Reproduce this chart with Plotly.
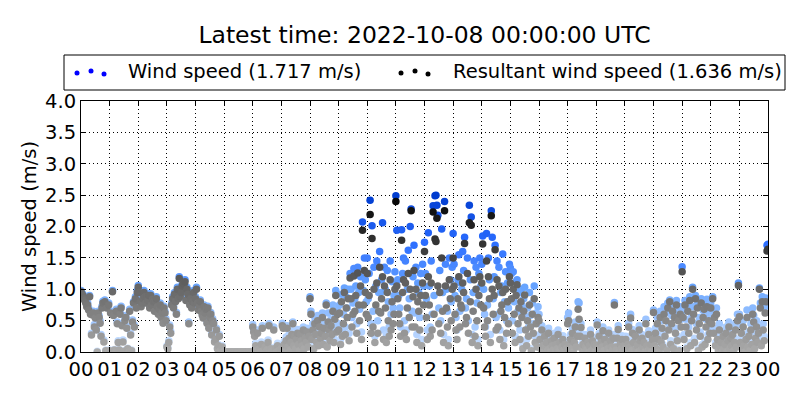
import pandas as pd
import plotly.graph_objects as go

# 2-minute samples, 2022-10-07 00:00 .. 2022-10-08 00:00 (one row per hour)
wind_speed = [
    0.98, 0.94, 0.92, 0.88, 0.85, 0.80, 0.75, 0.78, 0.70, 0.90, 0.63, 0.30, 0.62, 0.65, 0.44, 0.57, 0.38, 0.01, 0.65, 0.58, 0.50, 0.28, 0.73, 0.81, 0.19, 0.83, 0.03, 0.73, 0.01, 0.78,  # 00
    0.03, 0.65, 0.01, 0.98, 0.61, 0.04, 0.01, 0.68, 0.48, 0.18, 0.04, 0.63, 0.73, 0.45, 0.19, 0.02, 0.53, 0.58, 0.41, 0.06, 0.01, 0.68, 0.30, 0.03, 0.51, 0.80, 0.43, 0.88, 0.73, 0.98,  # 01
    1.06, 0.98, 0.83, 0.75, 0.81, 0.88, 0.98, 0.91, 0.81, 0.91, 0.85, 0.93, 0.73, 0.93, 0.78, 0.87, 0.83, 0.68, 0.83, 0.88, 0.75, 0.63, 0.71, 0.78, 0.58, 0.65, 0.49, 0.73, 0.65, 0.53,  # 02
    0.10, 0.07, 0.18, 0.43, 0.33, 0.78, 0.88, 0.73, 0.95, 0.83, 0.63, 1.03, 0.88, 1.20, 0.91, 0.98, 1.08, 1.13, 1.11, 1.15, 0.85, 1.03, 0.95, 0.48, 0.78, 0.88, 0.73, 0.83, 0.98, 0.81,  # 03
    0.88, 1.03, 0.81, 0.70, 0.75, 0.83, 0.68, 0.62, 0.57, 0.75, 0.65, 0.71, 0.49, 0.73, 0.41, 0.58, 0.63, 0.30, 0.53, 0.48, 0.19, 0.23, 0.38, 0.06, 0.12, 0.28, 0.03, 0.00, 0.10, 0.00,  # 04
    0.00, 0.00, 0.00, 0.00, 0.00, 0.00, 0.00, 0.00, 0.00, 0.00, 0.00, 0.00, 0.00, 0.00, 0.00, 0.00, 0.00, 0.00, 0.00, 0.00, 0.00, 0.00, 0.00, 0.00, 0.00, 0.00, 0.00, 0.00, 0.00, 0.01,  # 05
    0.44, 0.36, 0.30, 0.14, 0.04, 0.35, 0.01, 0.08, 0.01, 0.16, 0.42, 0.04, 0.01, 0.11, 0.01, 0.05, 0.19, 0.45, 0.02, 0.07, 0.01, 0.04, 0.40, 0.02, 0.08, 0.01, 0.14, 0.04, 0.01, 0.06,  # 06
    0.08, 0.46, 0.42, 0.17, 0.02, 0.24, 0.42, 0.12, 0.28, 0.04, 0.20, 0.34, 0.48, 0.15, 0.30, 0.08, 0.26, 0.36, 0.16, 0.04, 0.33, 0.23, 0.14, 0.40, 0.08, 0.28, 0.20, 0.38, 0.12, 0.30,  # 07
    0.88, 0.65, 0.28, 0.45, 0.10, 0.55, 0.35, 0.22, 0.58, 0.15, 0.55, 0.30, 0.40, 0.62, 0.18, 0.48, 0.32, 0.78, 0.12, 0.62, 0.45, 0.25, 0.52, 0.36, 0.75, 0.22, 0.62, 0.98, 0.42, 0.72,  # 08
    0.45, 0.75, 0.20, 0.92, 0.35, 0.60, 1.02, 0.40, 0.88, 0.70, 1.00, 0.30, 1.25, 1.00, 0.55, 0.78, 1.33, 0.85, 1.05, 0.45, 1.35, 0.95, 0.68, 1.20, 0.32, 2.07, 0.98, 1.50, 1.15, 0.80,  # 09
    1.50, 0.85, 1.25, 2.42, 0.45, 2.01, 0.65, 1.35, 0.25, 1.05, 1.45, 0.50, 0.95, 1.60, 0.95, 1.15, 2.06, 0.35, 1.35, 1.00, 0.28, 1.30, 0.80, 0.40, 1.45, 0.60, 1.12, 0.70, 0.90, 1.28,  # 10
    2.49, 1.94, 1.15, 0.90, 0.70, 0.40, 1.95, 1.25, 1.50, 0.50, 1.45, 0.35, 1.00, 1.62, 0.85, 2.00, 2.28, 0.65, 1.20, 1.70, 0.62, 1.35, 0.28, 1.10, 0.95, 0.55, 1.25, 0.20, 1.40, 1.05,  # 11
    1.75, 1.25, 0.85, 0.35, 1.90, 1.05, 0.40, 1.45, 0.60, 2.33, 0.90, 2.49, 2.50, 2.34, 2.18, 0.70, 1.30, 0.50, 1.96, 0.95, 0.28, 2.40, 1.40, 1.00, 0.65, 0.20, 1.50, 1.15, 0.80, 1.35,  # 12
    1.89, 1.40, 0.90, 0.55, 0.35, 1.15, 1.55, 0.65, 1.10, 1.00, 1.60, 1.30, 1.83, 0.70, 0.85, 1.50, 0.50, 2.34, 1.15, 2.15, 0.28, 0.95, 1.45, 0.40, 1.35, 0.78, 0.20, 1.25, 1.50, 1.05,  # 13
    1.40, 1.85, 1.00, 0.60, 0.40, 1.89, 0.75, 1.50, 1.15, 0.28, 2.25, 1.83, 0.85, 1.20, 1.70, 0.55, 1.45, 0.60, 1.35, 0.35, 0.95, 1.05, 1.56, 0.20, 0.80, 1.28, 0.50, 1.10, 0.70, 1.40,  # 14
    1.34, 1.25, 0.50, 1.28, 0.80, 0.25, 1.12, 1.15, 0.65, 0.95, 0.35, 1.00, 0.75, 0.12, 0.85, 1.03, 0.55, 0.20, 0.70, 0.40, 0.95, 0.58, 0.05, 0.78, 0.45, 1.05, 0.25, 0.62, 0.15, 0.72,  # 15
    0.60, 0.28, 0.08, 0.42, 0.15, 0.02, 0.32, 0.12, 0.20, 0.04, 0.38, 0.08, 0.02, 0.25, 0.15, 0.05, 0.30, 0.02, 0.18, 0.08, 0.35, 0.04, 0.20, 0.02, 0.12, 0.26, 0.05, 0.17, 0.02, 0.09,  # 16
    0.55, 0.62, 0.15, 0.28, 0.08, 0.38, 0.02, 0.22, 0.48, 0.12, 0.32, 0.80, 0.78, 0.32, 0.45, 0.08, 0.18, 0.02, 0.28, 0.12, 0.05, 0.20, 0.02, 0.15, 0.35, 0.04, 0.24, 0.08, 0.18, 0.02,  # 17
    0.15, 0.48, 0.08, 0.30, 0.02, 0.20, 0.12, 0.40, 0.04, 0.25, 0.02, 0.18, 0.08, 0.35, 0.02, 0.22, 0.12, 0.05, 0.28, 0.79, 0.12, 0.05, 0.28, 0.42, 0.02, 0.17, 0.08, 0.26, 0.04, 0.14,  # 18
    0.08, 0.25, 0.02, 0.18, 0.46, 0.12, 0.60, 0.04, 0.36, 0.20, 0.02, 0.30, 0.08, 0.15, 0.02, 0.42, 0.24, 0.05, 0.28, 0.12, 0.20, 0.02, 0.52, 0.15, 0.04, 0.34, 0.08, 0.17, 0.02, 0.26,  # 19
    0.67, 0.15, 0.38, 0.08, 0.55, 0.28, 0.02, 0.65, 0.20, 0.50, 0.12, 0.72, 0.32, 0.62, 0.04, 0.78, 0.45, 0.83, 0.18, 0.58, 0.75, 0.08, 0.68, 0.38, 0.82, 0.25, 0.62, 0.04, 0.72, 0.52,  # 20
    1.36, 0.65, 0.28, 0.82, 0.52, 0.08, 0.75, 0.40, 0.88, 0.15, 0.60, 1.03, 0.72, 0.22, 0.90, 0.45, 0.80, 0.05, 0.55, 0.32, 0.85, 0.12, 0.66, 0.80, 0.18, 0.52, 0.84, 0.28, 0.62, 0.40,  # 21
    0.78, 0.55, 0.88, 0.38, 0.65, 0.15, 0.70, 0.28, 0.04, 0.45, 0.12, 0.20, 0.02, 0.32, 0.08, 0.18, 0.40, 0.02, 0.25, 0.48, 0.08, 0.30, 0.15, 0.36, 0.04, 0.22, 0.45, 0.12, 0.60, 1.10,  # 22
    0.60, 0.22, 0.43, 0.08, 0.50, 0.15, 0.02, 0.28, 0.67, 0.12, 0.32, 0.04, 0.45, 0.18, 0.70, 0.58, 0.08, 0.30, 0.50, 0.22, 0.40, 1.02, 0.78, 0.15, 0.88, 0.45, 0.25, 0.72, 0.86, 1.70,  # 23
    1.717,
]

resultant_speed = [
    0.96, 0.92, 0.90, 0.85, 0.82, 0.78, 0.72, 0.75, 0.67, 0.88, 0.60, 0.27, 0.59, 0.62, 0.40, 0.54, 0.35, 0.00, 0.62, 0.55, 0.46, 0.25, 0.70, 0.78, 0.16, 0.80, 0.02, 0.70, 0.00, 0.75,  # 00
    0.02, 0.62, 0.00, 0.96, 0.58, 0.03, 0.00, 0.65, 0.45, 0.15, 0.03, 0.60, 0.70, 0.42, 0.16, 0.01, 0.50, 0.55, 0.38, 0.05, 0.00, 0.65, 0.27, 0.02, 0.48, 0.78, 0.40, 0.85, 0.70, 0.95,  # 01
    1.03, 0.95, 0.80, 0.72, 0.78, 0.85, 0.95, 0.88, 0.78, 0.88, 0.82, 0.90, 0.70, 0.90, 0.75, 0.84, 0.80, 0.65, 0.80, 0.85, 0.72, 0.60, 0.68, 0.75, 0.55, 0.62, 0.46, 0.70, 0.62, 0.50,  # 02
    0.08, 0.05, 0.15, 0.40, 0.30, 0.75, 0.85, 0.70, 0.92, 0.80, 0.60, 1.00, 0.85, 1.17, 0.88, 0.95, 1.05, 1.10, 1.08, 1.12, 0.82, 1.00, 0.92, 0.45, 0.75, 0.85, 0.70, 0.80, 0.95, 0.78,  # 03
    0.85, 1.00, 0.78, 0.67, 0.72, 0.80, 0.65, 0.59, 0.54, 0.72, 0.62, 0.68, 0.46, 0.70, 0.38, 0.55, 0.60, 0.27, 0.50, 0.45, 0.16, 0.20, 0.35, 0.05, 0.10, 0.25, 0.02, 0.00, 0.08, 0.00,  # 04
    0.00, 0.00, 0.00, 0.00, 0.00, 0.00, 0.00, 0.00, 0.00, 0.00, 0.00, 0.00, 0.00, 0.00, 0.00, 0.00, 0.00, 0.00, 0.00, 0.00, 0.00, 0.00, 0.00, 0.00, 0.00, 0.00, 0.00, 0.00, 0.00, 0.00,  # 05
    0.40, 0.32, 0.25, 0.10, 0.02, 0.30, 0.00, 0.05, 0.00, 0.12, 0.38, 0.02, 0.00, 0.08, 0.00, 0.03, 0.15, 0.42, 0.00, 0.05, 0.00, 0.02, 0.35, 0.00, 0.06, 0.00, 0.10, 0.02, 0.00, 0.04,  # 06
    0.05, 0.42, 0.38, 0.12, 0.00, 0.18, 0.38, 0.08, 0.22, 0.02, 0.15, 0.28, 0.45, 0.10, 0.25, 0.05, 0.20, 0.30, 0.12, 0.02, 0.28, 0.18, 0.10, 0.35, 0.05, 0.22, 0.15, 0.32, 0.08, 0.25,  # 07
    0.85, 0.60, 0.20, 0.35, 0.05, 0.45, 0.28, 0.15, 0.50, 0.10, 0.40, 0.22, 0.30, 0.55, 0.12, 0.38, 0.25, 0.75, 0.08, 0.48, 0.35, 0.18, 0.42, 0.28, 0.65, 0.15, 0.52, 0.90, 0.32, 0.60,  # 08
    0.35, 0.62, 0.12, 0.80, 0.25, 0.45, 0.95, 0.28, 0.70, 0.55, 0.85, 0.18, 1.18, 0.85, 0.40, 0.60, 1.21, 0.65, 0.90, 0.30, 1.26, 0.75, 0.50, 1.05, 0.20, 1.94, 0.75, 1.30, 0.95, 0.60,  # 09
    1.25, 0.55, 0.90, 2.19, 0.30, 1.81, 0.40, 1.00, 0.15, 0.75, 1.10, 0.30, 0.65, 1.35, 0.62, 0.85, 1.20, 0.20, 1.05, 0.70, 0.15, 0.95, 0.50, 0.25, 1.15, 0.35, 0.80, 0.45, 0.60, 1.00,  # 10
    2.40, 1.05, 0.85, 0.60, 0.45, 0.25, 1.78, 0.95, 1.15, 0.30, 1.10, 0.20, 0.70, 1.25, 0.55, 1.00, 2.25, 0.40, 0.88, 1.30, 0.40, 1.00, 0.15, 0.80, 0.65, 0.35, 0.90, 0.10, 1.10, 0.75,  # 11
    1.60, 0.90, 0.55, 0.20, 1.20, 0.75, 0.25, 1.10, 0.35, 2.23, 0.60, 1.80, 1.76, 2.13, 1.05, 0.45, 0.95, 0.30, 1.50, 0.65, 0.15, 2.25, 1.05, 0.70, 0.40, 0.10, 1.15, 0.85, 0.50, 1.00,  # 12
    1.50, 1.05, 0.60, 0.35, 0.20, 0.85, 1.20, 0.40, 0.75, 0.70, 1.10, 0.95, 1.73, 0.45, 0.55, 1.25, 0.30, 2.06, 0.80, 2.02, 0.15, 0.65, 1.15, 0.25, 1.00, 0.50, 0.10, 0.90, 1.20, 0.75,  # 13
    1.10, 1.72, 0.70, 0.40, 0.25, 1.45, 0.50, 1.20, 0.85, 0.15, 2.17, 1.00, 0.60, 0.90, 1.63, 0.35, 1.15, 0.40, 1.05, 0.20, 0.65, 0.75, 0.95, 0.10, 0.55, 1.00, 0.30, 0.80, 0.45, 1.20,  # 14
    1.10, 0.85, 0.30, 1.00, 0.60, 0.15, 0.90, 1.07, 0.45, 0.70, 0.20, 0.80, 0.55, 0.05, 0.65, 0.91, 0.35, 0.10, 0.50, 0.25, 0.75, 0.40, 0.02, 0.60, 0.30, 0.85, 0.15, 0.45, 0.08, 0.55,  # 15
    0.50, 0.20, 0.05, 0.35, 0.10, 0.00, 0.25, 0.08, 0.15, 0.02, 0.30, 0.05, 0.00, 0.18, 0.10, 0.03, 0.22, 0.00, 0.12, 0.05, 0.28, 0.02, 0.15, 0.00, 0.08, 0.20, 0.03, 0.12, 0.00, 0.06,  # 16
    0.45, 0.50, 0.10, 0.20, 0.05, 0.30, 0.00, 0.15, 0.40, 0.08, 0.25, 0.68, 0.52, 0.25, 0.39, 0.05, 0.12, 0.00, 0.22, 0.08, 0.03, 0.15, 0.00, 0.10, 0.28, 0.02, 0.18, 0.05, 0.12, 0.00,  # 17
    0.10, 0.43, 0.05, 0.25, 0.00, 0.15, 0.08, 0.34, 0.02, 0.20, 0.00, 0.12, 0.05, 0.30, 0.00, 0.18, 0.08, 0.03, 0.22, 0.75, 0.08, 0.03, 0.22, 0.36, 0.00, 0.12, 0.05, 0.20, 0.02, 0.10,  # 18
    0.05, 0.20, 0.00, 0.12, 0.40, 0.08, 0.54, 0.02, 0.30, 0.15, 0.00, 0.25, 0.05, 0.10, 0.00, 0.35, 0.18, 0.03, 0.22, 0.08, 0.15, 0.00, 0.45, 0.10, 0.02, 0.28, 0.05, 0.12, 0.00, 0.20,  # 19
    0.63, 0.10, 0.30, 0.05, 0.45, 0.20, 0.00, 0.55, 0.15, 0.38, 0.08, 0.60, 0.25, 0.50, 0.02, 0.70, 0.35, 0.80, 0.12, 0.45, 0.65, 0.05, 0.55, 0.30, 0.75, 0.18, 0.50, 0.02, 0.60, 0.40,  # 20
    1.28, 0.55, 0.20, 0.75, 0.40, 0.05, 0.65, 0.30, 0.82, 0.10, 0.50, 1.00, 0.60, 0.15, 0.85, 0.35, 0.70, 0.02, 0.45, 0.25, 0.78, 0.08, 0.55, 0.68, 0.12, 0.40, 0.72, 0.20, 0.50, 0.30,  # 21
    0.70, 0.45, 0.85, 0.30, 0.55, 0.10, 0.60, 0.20, 0.02, 0.35, 0.08, 0.15, 0.00, 0.25, 0.05, 0.12, 0.30, 0.00, 0.18, 0.40, 0.05, 0.22, 0.10, 0.28, 0.02, 0.15, 0.35, 0.08, 0.50, 1.06,  # 22
    0.56, 0.15, 0.30, 0.05, 0.40, 0.10, 0.00, 0.20, 0.55, 0.08, 0.25, 0.02, 0.35, 0.12, 0.60, 0.48, 0.05, 0.22, 0.40, 0.15, 0.30, 1.00, 0.70, 0.10, 0.80, 0.35, 0.18, 0.62, 0.80, 1.61,  # 23
    1.636,
]

latest_time = "2022-10-08 00:00:00"
latest_ws = 1.717
latest_rws = 1.636

times = pd.date_range("2022-10-07 00:00", periods=len(wind_speed), freq="2min")

blues = [[0, "#d2e5ff"], [0.4, "#6aa6ff"], [0.7, "#2a6cff"], [1, "#003ccf"]]
greys = [[0, "#ababab"], [1, "#000000"]]

FONT = "DejaVu Sans"
OFF = 8  # page body margin: the figure starts 8px in from the window edge
W, H = 800, 400  # window
L, R, T, B = 81, 32, 101, 48  # plot area edges in window pixels
PW, PH = W - L - R, H - T - B


def px(x):  # window column -> paper x
    return (x - L) / PW


def py(y):  # window row -> paper y
    return (H - B - y) / PH


fig = go.Figure()

fig.add_trace(go.Scatter(
    x=times, y=wind_speed, mode="markers", showlegend=False,
    marker=dict(size=7.5, color=wind_speed, colorscale=blues, cmin=0, cmax=2.5, line=dict(width=0)),
))
fig.add_trace(go.Scatter(
    x=times, y=resultant_speed, mode="markers", showlegend=False,
    marker=dict(size=7.5, color=resultant_speed, colorscale=greys, cmin=0, cmax=2.5, line=dict(width=0)),
))

# matplotlib-like legend box drawn by hand (three scatter dots per entry)
shapes = [dict(type="rect", xref="paper", yref="paper",
               x0=px(64), x1=px(785), y0=py(90), y1=py(55),
               line=dict(color="black", width=1), fillcolor="white", layer="above")]
for x0, col in [(77, "#0000ff"), (401, "#000000")]:
    for dx, dy in [(0, 1), (14, -1), (27, 2)]:
        cx, cy = x0 + dx, 72 + dy
        shapes.append(dict(type="circle", xref="paper", yref="paper",
                           x0=px(cx - 2.5), x1=px(cx + 2.5), y0=py(cy + 2.5), y1=py(cy - 2.5),
                           line=dict(width=0), fillcolor=col, layer="above"))

annotations = [
    dict(text=f"Wind speed ({latest_ws:.3f} m/s)", x=px(126), y=py(71),
         xref="paper", yref="paper", xanchor="left", yanchor="middle", showarrow=False,
         font=dict(family=FONT, size=19.5, color="black")),
    dict(text=f"Resultant wind speed ({latest_rws:.3f} m/s)", x=px(451), y=py(71),
         xref="paper", yref="paper", xanchor="left", yanchor="middle", showarrow=False,
         font=dict(family=FONT, size=19.5, color="black")),
]

fig.update_layout(
    width=W - OFF, height=H - OFF,
    margin=dict(l=L - OFF, r=R, t=T - OFF, b=B),
    paper_bgcolor="white", plot_bgcolor="white",
    font=dict(family=FONT, size=19.5, color="black"),
    title=dict(text=f"Latest time: {latest_time} UTC", x=(424.5 - OFF) / (W - OFF), xanchor="center",
               y=1 - (35 - OFF) / (H - OFF), yanchor="middle", yref="container",
               font=dict(family=FONT, size=23.5, color="black")),
    showlegend=False,
    shapes=shapes,
    annotations=annotations,
)

fig.update_xaxes(
    range=[times[0], times[-1]], dtick=3600000, tickformat="%H",
    ticks="inside", ticklen=5, tickcolor="black",
    showline=True, linecolor="black", linewidth=1, mirror="allticks",
    showgrid=True, gridcolor="black", griddash="1px,3px", gridwidth=1,
    zeroline=False, tickfont=dict(size=19.5), automargin=False,
)
fig.update_yaxes(
    range=[0, 4], dtick=0.5, tickformat=".1f",
    ticks="inside", ticklen=5, tickcolor="black",
    showline=True, linecolor="black", linewidth=1, mirror="allticks",
    showgrid=True, gridcolor="black", griddash="1px,3px", gridwidth=1,
    zeroline=False, tickfont=dict(size=19.5), automargin=False,
    title=dict(text="Wind speed (m/s)", font=dict(size=19.5), standoff=3),
)

fig.write_html("out.html")
